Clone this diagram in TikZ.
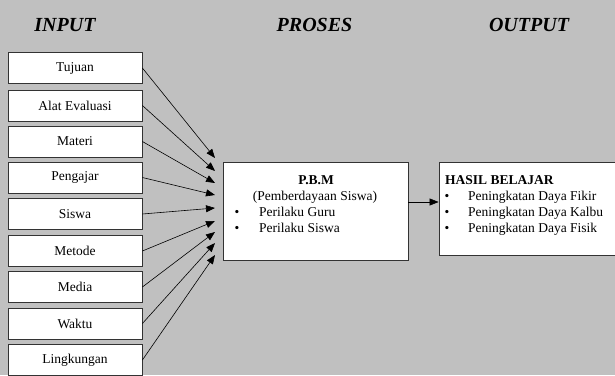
\documentclass[tikz,border=0pt]{standalone}
\usepackage{fontspec}
\setmainfont{Liberation Serif}
\usepackage{xcolor}
\usetikzlibrary{arrows.meta,positioning}
\definecolor{latar}{HTML}{C0C0C0}

\begin{document}
\begin{tikzpicture}[x=1pt,y=-1pt,>={Triangle[length=9pt,width=7pt]},
  judul/.style={font=\fontsize{20}{24}\selectfont\bfseries\itshape},
  masukan/.style={draw=black!80,fill=white,line width=0.8pt,minimum width=134pt,minimum height=31pt,inner sep=0pt,font=\fontsize{13.5}{16}\selectfont},
  kotak/.style={draw=black!80,fill=white,line width=0.8pt,inner sep=0pt},
  teks/.style={inner sep=0pt,font=\fontsize{13.5}{16}\selectfont}]

	% Background
	\path[use as bounding box,fill=latar] (0,0) rectangle (615,375);
	\clip (0,0) rectangle (615,375);

	% Headings
	\node [judul] at (65,25) (hInput) {INPUT};
	\node [judul] at (314.5,25) (hProses) {PROSES};
	\node [judul] at (529,25) (hOutput) {OUTPUT};

	% Input boxes
	\node [masukan] at (75,68) (tujuan) {Tujuan};
	\node [masukan] at (75,105.5) (alat) {Alat Evaluasi};
	\node [masukan] at (75,141.5) (materi) {Materi};
	\node [masukan] at (75,177.5) (pengajar) {Pengajar};
	\node [masukan] at (75,214) (siswa) {Siswa};
	\node [masukan] at (75,251) (metode) {Metode};
	\node [masukan] at (75,287) (media) {Media};
	\node [masukan] at (75,323.5) (waktu) {Waktu};
	\node [masukan] at (75,360) (lingkungan) {Lingkungan};

	% Process box
	\node [kotak,minimum width=185pt,minimum height=98pt] at (315.5,211) (pbm) {};
	\node [teks,anchor=base,font=\fontsize{13.5}{16}\selectfont\bfseries] at (316,184) (pbmJudul) {P.B.M};
	\node [teks,anchor=base] at (315,200) (pbmSub) {(Pemberdayaan Siswa)};
	\node [teks,anchor=base] at (237,216) (pbmB1) {\textbullet};
	\node [teks,anchor=base west] at (259,216) (pbmGuru) {Perilaku Guru};
	\node [teks,anchor=base] at (237,232) (pbmB2) {\textbullet};
	\node [teks,anchor=base west] at (259,232) (pbmSiswa) {Perilaku Siswa};

	% Output box
	\node [kotak,minimum width=201pt,minimum height=93pt] at (539.5,208.5) (hasil) {};
	\node [teks,anchor=base west,font=\fontsize{13.5}{16}\selectfont\bfseries] at (445,184) (hasilJudul) {HASIL BELAJAR};
	\node [teks,anchor=base] at (447,200) (hasilB1) {\textbullet};
	\node [teks,anchor=base west] at (468,200) (fikir) {Peningkatan Daya Fikir};
	\node [teks,anchor=base] at (447,216) (hasilB2) {\textbullet};
	\node [teks,anchor=base west] at (468,216) (kalbu) {Peningkatan Daya Kalbu};
	\node [teks,anchor=base] at (447,232) (hasilB3) {\textbullet};
	\node [teks,anchor=base west] at (468,232) (fisik) {Peningkatan Daya Fisik};

	% Arrow tips on the process box
	\coordinate (t1) at (215,158);
	\coordinate (t2) at (215,171);
	\coordinate (t3) at (215,183);
	\coordinate (t4) at (215,195);
	\coordinate (t5) at (215,208);
	\coordinate (t6) at (215,221);
	\coordinate (t7) at (215,232);
	\coordinate (t8) at (215,243);
	\coordinate (t9) at (215,255);

	% Edges
	\path[->,line width=0.6pt]
	(tujuan.east) edge (t1)
	(alat.east) edge (t2)
	(materi.east) edge (t3)
	(pengajar.east) edge (t4)
	(siswa.east) edge (t5)
	(metode.east) edge (t6)
	(media.east) edge (t7)
	(waktu.east) edge (t8)
	(lingkungan.east) edge (t9);

	\path[->,line width=0.6pt]
	([yshift=9pt]pbm.east) edge ([yshift=6.5pt]hasil.west);

\end{tikzpicture}
\end{document}
